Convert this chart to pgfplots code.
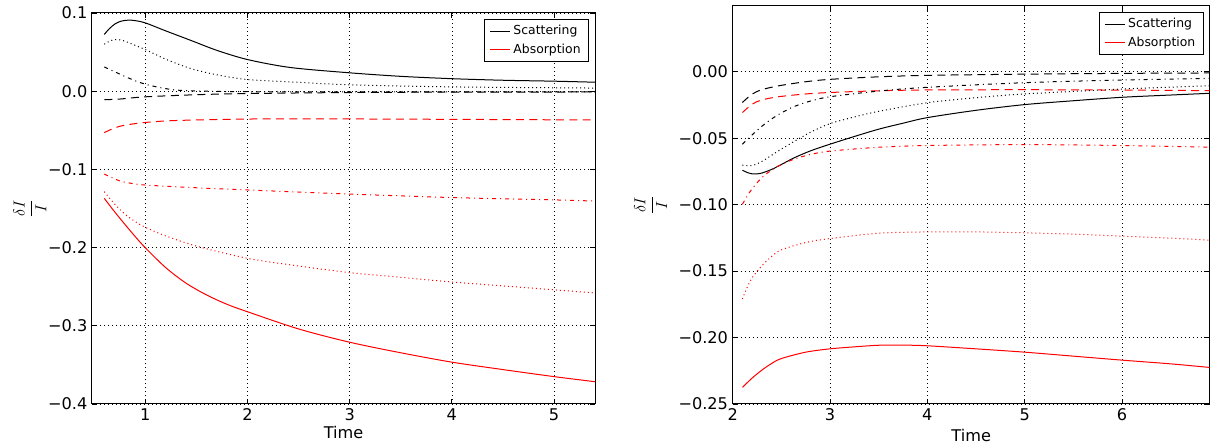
\documentclass[border=0pt]{standalone}
\usepackage{pgfplots}
\pgfplotsset{compat=1.18}
\usepackage{fontspec}
\setmainfont{DejaVu Sans}

\pgfplotsset{
  mystyle/.style={
    scale only axis, anchor=south west,
    axis line style={line width=0.75pt},
    grid=major,
    major grid style={black, line width=0.5pt, dash pattern=on 0.75pt off 2.25pt},
    tick style={black, line width=0.6pt}, major tick length=4pt,
    tick label style={font=\fontsize{12.1}{14}\selectfont},
    label style={font=\fontsize{12.1}{14}\selectfont},
    legend style={font=\fontsize{9.3}{11}\selectfont, draw=black, line width=0.6pt,
      at={(1,1)}, anchor=north east, xshift=-4.5pt, yshift=-4.5pt,
      row sep=1.5pt, inner xsep=4pt, inner ysep=2.5pt},
    legend cell align=left,
    legend image code/.code={\draw[##1, line width=0.8pt] (0pt,0pt) -- (15pt,0pt);},
    every axis plot/.append style={line width=0.75pt, smooth, tension=0.5},
  },
  sdot/.style={dash pattern=on 0.75pt off 2.25pt},
  sdash/.style={dash pattern=on 6pt off 4pt},
  sdashdot/.style={dash pattern=on 3pt off 3pt on 0.75pt off 3pt},
}

\begin{document}
\begin{tikzpicture}
\useasboundingbox (0,0) rectangle (920.25pt,336pt);

% ---------------- left panel ----------------
\begin{axis}[mystyle,
  at={(69pt,33pt)}, width=377.25pt, height=293.25pt,
  xmin=0.48, xmax=5.4, ymin=-0.4, ymax=0.1,
  xtick={1,2,3,4,5}, xticklabels={1,2,3,4,5},
  ytick={-0.4,-0.3,-0.2,-0.1,0,0.1},
  yticklabels={−0.4,−0.3,−0.2,−0.1,0.0,0.1},
  xlabel={Time}, ylabel={$\displaystyle\frac{\delta I}{I}$},
  xlabel style={at={(axis description cs:0.5,-0.074)}, anchor=center},
  ylabel style={at={(axis description cs:-0.1233,0.5)}, anchor=center},
]
% black solid
\addplot[black] coordinates {(0.6,0.0725) (0.65,0.080) (0.71,0.0865) (0.77,0.0897) (0.83,0.0908) (0.89,0.0905) (1.0,0.0874) (1.2,0.0772) (1.45,0.0648) (1.7,0.0523) (2.0,0.0405) (2.42,0.0303) (3.0,0.0235) (3.5,0.019) (4.0,0.016) (4.5,0.014) (5.0,0.0128) (5.4,0.0115)};
\addlegendentry{Scattering}
% red solid
\addplot[red] coordinates {(0.6,-0.137) (0.7,-0.154) (0.8,-0.170) (0.9,-0.1855) (1.0,-0.200) (1.2,-0.2255) (1.4,-0.2455) (1.6,-0.2605) (1.8,-0.2725) (2.0,-0.282) (2.5,-0.304) (3.0,-0.321) (3.5,-0.3345) (4.0,-0.3465) (4.5,-0.356) (5.0,-0.365) (5.4,-0.3715)};
\addlegendentry{Absorption}
% black dotted
\addplot[black, sdot, forget plot] coordinates {(0.6,0.0601) (0.67,0.065) (0.73,0.066) (0.8,0.064) (1.0,0.0533) (1.2,0.0410) (1.446,0.029) (1.7,0.021) (2.0,0.0149) (2.42,0.0119) (3.0,0.0082) (4.0,0.0055) (5.4,0.004)};
% black dash-dot
\addplot[black, sdashdot, forget plot] coordinates {(0.6,0.031) (0.7,0.025) (0.8,0.019) (0.9,0.0135) (1.0,0.009) (1.15,0.0045) (1.316,0.0013) (1.6,0.0) (2.0,-0.0007) (3,-0.001) (4,-0.001) (5.4,-0.0008)};
% black dashed
\addplot[black, sdash, forget plot] coordinates {(0.6,-0.0107) (0.7,-0.0105) (0.8,-0.0095) (1.0,-0.0072) (1.5,-0.0045) (2,-0.003) (3,-0.0017) (4,-0.0012) (5.4,-0.001)};
% red dashed
\addplot[red, sdash, forget plot] coordinates {(0.6,-0.053) (0.7,-0.047) (0.8,-0.0435) (1.0,-0.040) (1.3,-0.0375) (2,-0.0356) (3,-0.0355) (4,-0.036) (5.4,-0.0368)};
% red dash-dot
\addplot[red, sdashdot, forget plot] coordinates {(0.6,-0.106) (0.75,-0.1147) (0.85,-0.1175) (1.0,-0.120) (1.5,-0.1235) (2,-0.1263) (3,-0.1315) (4,-0.136) (5,-0.139) (5.4,-0.1405)};
% red dotted
\addplot[red, sdot, forget plot] coordinates {(0.6,-0.1285) (0.7,-0.144) (0.8,-0.157) (0.9,-0.1665) (1.0,-0.174) (1.2,-0.185) (1.5,-0.198) (2,-0.2137) (2.5,-0.2235) (3,-0.232) (3.5,-0.238) (4,-0.244) (4.5,-0.249) (5,-0.254) (5.4,-0.258)};
\end{axis}

% ---------------- right panel ----------------
\begin{axis}[mystyle,
  at={(549.5pt,33pt)}, width=357.75pt, height=298.5pt,
  xmin=2, xmax=6.9, ymin=-0.25, ymax=0.0495,
  xtick={2,3,4,5,6}, xticklabels={2,3,4,5,6},
  ytick={-0.25,-0.2,-0.15,-0.1,-0.05,0},
  yticklabels={−0.25,−0.20,−0.15,−0.10,−0.05,0.00},
  xlabel={Time}, ylabel={$\displaystyle\frac{\delta I}{I}$},
  xlabel style={at={(axis description cs:0.5,-0.078)}, anchor=center},
  ylabel style={at={(axis description cs:-0.1719,0.5)}, anchor=center},
]
% black solid
\addplot[black] coordinates {(2.1,-0.0741) (2.15,-0.0758) (2.2,-0.0768) (2.25,-0.0768) (2.3,-0.0762) (2.4,-0.0735) (2.5,-0.0698) (2.63,-0.0648) (2.8,-0.0595) (3,-0.0545) (3.25,-0.0487) (3.5,-0.0432) (3.75,-0.0387) (4,-0.0345) (4.5,-0.0290) (5,-0.0247) (5.5,-0.0218) (6,-0.0192) (6.5,-0.0175) (6.9,-0.0162)};
\addlegendentry{Scattering}
% red solid
\addplot[red] coordinates {(2.1,-0.2375) (2.2,-0.2305) (2.3,-0.2245) (2.4,-0.2195) (2.5,-0.2158) (2.75,-0.211) (3,-0.2085) (3.25,-0.207) (3.5,-0.2058) (3.75,-0.2057) (4,-0.2062) (4.5,-0.2085) (5,-0.211) (5.5,-0.214) (6,-0.217) (6.5,-0.2198) (6.9,-0.2225)};
\addlegendentry{Absorption}
% black dashed
\addplot[black, sdash, forget plot] coordinates {(2.1,-0.0231) (2.2,-0.0168) (2.3,-0.0135) (2.47,-0.0106) (2.75,-0.0075) (3,-0.0057) (3.5,-0.0038) (4,-0.0027) (5,-0.0018) (6,-0.0012) (6.9,-0.0009)};
% red dashed
\addplot[red, sdash, forget plot] coordinates {(2.1,-0.0307) (2.2,-0.0244) (2.3,-0.0212) (2.47,-0.0188) (2.75,-0.0167) (3,-0.0156) (3.5,-0.0143) (4,-0.0137) (5,-0.0135) (6,-0.0138) (6.9,-0.0142)};
% black dash-dot
\addplot[black, sdashdot, forget plot] coordinates {(2.1,-0.0545) (2.2,-0.0475) (2.3,-0.041) (2.4,-0.0355) (2.5,-0.031) (2.63,-0.0262) (2.8,-0.0220) (3,-0.0188) (3.5,-0.0145) (4,-0.0117) (5,-0.0082) (6,-0.0062) (6.9,-0.005)};
% black dotted
\addplot[black, sdot, forget plot] coordinates {(2.1,-0.0703) (2.2,-0.0705) (2.3,-0.0675) (2.4,-0.0628) (2.5,-0.0582) (2.63,-0.0525) (2.8,-0.0455) (3,-0.0390) (3.25,-0.0340) (3.5,-0.0298) (4,-0.0233) (4.5,-0.0195) (5,-0.0167) (6,-0.013) (6.9,-0.0105)};
% red dash-dot
\addplot[red, sdashdot, forget plot] coordinates {(2.1,-0.0997) (2.15,-0.0935) (2.2,-0.0880) (2.3,-0.0796) (2.4,-0.0740) (2.5,-0.0698) (2.63,-0.0658) (2.8,-0.0622) (3,-0.0597) (3.5,-0.0568) (4,-0.0555) (5,-0.0548) (6,-0.0555) (6.9,-0.0567)};
% red dotted
\addplot[red, sdot, forget plot] coordinates {(2.1,-0.171) (2.15,-0.162) (2.2,-0.155) (2.3,-0.146) (2.4,-0.139) (2.5,-0.134) (2.75,-0.1285) (3,-0.1255) (3.5,-0.1215) (4,-0.1205) (4.5,-0.1205) (5,-0.1212) (5.5,-0.1222) (6,-0.1237) (6.5,-0.1252) (6.9,-0.1267)};
\end{axis}
\end{tikzpicture}
\end{document}
